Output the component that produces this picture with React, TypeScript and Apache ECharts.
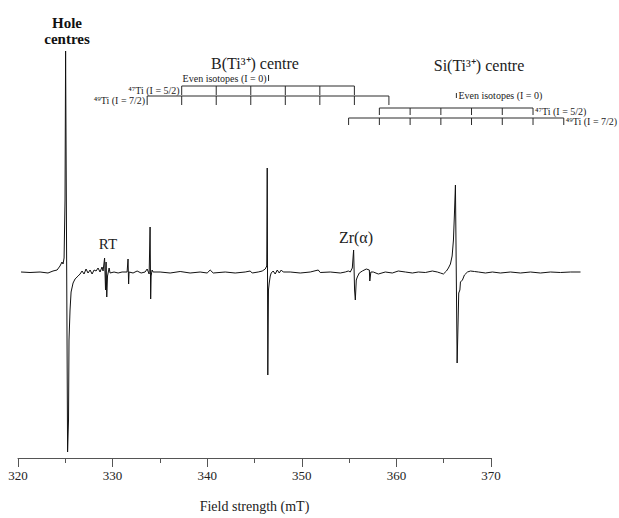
import React, { useEffect, useRef } from "react";
import * as echarts from "echarts";

// ---- Data (field strength in mT, signal in arbitrary units; 0 = baseline) ----
const fieldMT = [
  320.32, 321.27, 322.33, 323.17, 323.7, 324.13, 324.44, 324.65, 324.76, 324.87, 324.97, 325.03,
  325.24, 325.34, 325.39, 325.5, 325.61, 325.82, 326.03, 326.35, 326.56, 326.77, 326.98, 327.19,
  327.4, 327.62, 327.83, 328.04, 328.25, 328.46, 328.67, 328.88, 328.99, 329.15, 329.25, 329.31,
  329.38, 329.46, 329.63, 329.73, 330.15, 330.58, 331.0, 331.53, 331.63, 331.69, 331.74, 332.16,
  332.59, 333.01, 333.43, 333.65, 333.86, 333.96, 334.02, 334.07, 334.17, 334.28, 335.02, 336.08,
  337.14, 338.19, 339.25, 339.99, 340.31, 340.63, 341.9, 342.95, 344.01, 344.54, 344.75, 345.39,
  345.81, 346.13, 346.29, 346.34, 346.4, 346.47, 346.55, 346.66, 346.76, 346.97, 347.18, 347.4,
  347.61, 347.82, 348.03, 348.77, 349.83, 350.89, 351.73, 351.94, 353.0, 354.06, 354.59, 354.91,
  355.12, 355.33, 355.47, 355.57, 355.65, 355.75, 355.86, 356.07, 356.39, 356.81, 357.13, 357.18,
  357.29, 357.55, 358.08, 358.82, 359.56, 360.19, 360.94, 361.68, 362.31, 363.05, 363.79, 364.32,
  364.64, 364.96, 365.28, 365.49, 365.7, 365.88, 366.02, 366.12, 366.23, 366.41, 366.49, 366.58,
  366.7, 366.76, 366.97, 367.18, 367.5, 367.82, 368.24, 368.66, 369.4, 370.14, 370.98, 372.04,
  373.1, 374.16, 375.21, 376.27, 377.33, 378.39, 379.45,
];
const signal = [
  0, -0.5, 0, -1, 1, 2, 6, 10, 8, 14, 72, 221,
  -180, -148, -68, -38, -20, -11, -7, -4, -2, 1, -2, 3,
  -1, 2, -2, 2, 1, 4, 0, 5, 1, 14, -18, 10,
  -25, -4, 4, -1, 0, -1, 0, 0, 13, -12, 0, -1,
  1, -1, 0, 3, -2, 45, -27, -4, 2, 0, 0, -1,
  0.5, -1, 0, -1, 2, -1, 0, -1, 0, 1, -1, 0,
  1, 3, 6, 104, -103, -18, -11, -4, -1, 1, -2, 2,
  -1, 2, 0, 0, -1, 0, 2, -0.5, 0, -1, 0, 1,
  0, 4, 22, -18, -28, -8, -5, -1, 1, 3, 2, -9,
  0, 0, -2, 0, -1, 1, 0, -1, 0, -0.5, 1, 0,
  -1, -2, 1, 4, 8, 16, 32, 57, 87, -91, -58, -21,
  -18, -10, -8, -3, 0, 1, 0.5, 0, -1, 0, -1, 0,
  -1, 0, -1, 0, -0.5, 0, 0,
];

// Stick diagrams (line positions in mT)
const bEven = [346.48];
const b47Ti = [337.3, 340.95, 344.6, 348.25, 351.9, 355.55];
const b49Ti = [333.65, 337.3, 340.95, 344.6, 348.25, 351.9, 355.55, 359.2];
const siEven = [366.33];
const si47Ti = [358.19, 361.44, 364.69, 367.93, 371.18, 374.43];
const si49Ti = [354.94, 358.19, 361.44, 364.69, 367.93, 371.18, 374.43, 377.68];

const xTicks = [320, 330, 340, 350, 360, 370];
const plotFieldMax = 379.5; // spectrum trace runs past the labelled axis

const FONT = '"Liberation Serif", "Times New Roman", serif';

type Comb = { pos: number[]; top: number; bottom: number; label: string; side: "left" | "right" };
const combs: Comb[] = [
  { pos: bEven, top: 197, bottom: 191, label: "Even isotopes (I = 0)", side: "left" },
  { pos: b47Ti, top: 186, bottom: 177, label: "⁴⁷Ti (I = 5/2)", side: "left" },
  { pos: b49Ti, top: 176, bottom: 167, label: "⁴⁹Ti (I = 7/2)", side: "left" },
  { pos: siEven, top: 179, bottom: 174, label: "Even isotopes (I = 0)", side: "right" },
  { pos: si47Ti, top: 164, bottom: 157, label: "⁴⁷Ti (I = 5/2)", side: "right" },
  { pos: si49Ti, top: 154, bottom: 147, label: "⁴⁹Ti (I = 7/2)", side: "right" },
];

export default function App() {
  const ref = useRef<HTMLDivElement>(null);
  useEffect(() => {
    if (!ref.current) return;
    const chart = echarts.init(ref.current, null, { renderer: "svg" });
    const stroke = "#2a2a2a";
    const yMin = -186;
    const yMax = 232;
    chart.setOption({
      animation: false,
      backgroundColor: "#ffffff",
      grid: [
        { left: 18, right: 128, top: 40, bottom: 60 },
        { left: 18, right: 38, top: 40, bottom: 60 },
      ],
      xAxis: [
        {
          type: "value",
          gridIndex: 0,
          min: xTicks[0],
          max: xTicks[xTicks.length - 1],
          interval: 10,
          name: "Field strength (mT)",
          nameLocation: "middle",
          nameGap: 41,
          nameTextStyle: { fontFamily: FONT, fontSize: 14, color: "#222" },
          axisLine: { show: true, onZero: false, lineStyle: { color: "#555", width: 1 } },
          axisTick: { show: true, inside: false, length: 9, lineStyle: { color: "#555" } },
          minorTick: { show: true, splitNumber: 2, length: 5, lineStyle: { color: "#555" } },
          axisLabel: { fontFamily: FONT, fontSize: 13, color: "#222", margin: 11 },
          splitLine: { show: false },
          minorSplitLine: { show: false },
        },
        {
          type: "value",
          gridIndex: 1,
          min: xTicks[0],
          max: plotFieldMax,
          show: false,
          splitLine: { show: false },
        },
      ],
      yAxis: [
        { type: "value", gridIndex: 0, min: yMin, max: yMax, show: false, splitLine: { show: false } },
        { type: "value", gridIndex: 1, min: yMin, max: yMax, show: false, splitLine: { show: false } },
      ],
      series: [
        {
          type: "line",
          xAxisIndex: 1,
          yAxisIndex: 1,
          data: fieldMT.map((f, i) => [f, signal[i]]),
          showSymbol: false,
          symbol: "none",
          clip: false,
          lineStyle: { color: "#111", width: 1 },
        },
        {
          type: "custom",
          xAxisIndex: 1,
          yAxisIndex: 1,
          clip: false,
          data: combs.map((c, i) => [c.pos[0], c.top, i]),
          renderItem: (params: any, api: any) => {
            const c = combs[params.dataIndex];
            const xs = c.pos.map((p) => api.coord([p, c.top])[0]);
            const topY = api.coord([c.pos[0], c.top])[1];
            const botY = api.coord([c.pos[0], c.bottom])[1];
            const children: any[] = [];
            if (xs.length > 1) {
              children.push({
                type: "line",
                shape: { x1: xs[0], y1: topY, x2: xs[xs.length - 1], y2: topY },
                style: { stroke, lineWidth: 1 },
              });
            }
            xs.forEach((x) =>
              children.push({
                type: "line",
                shape: { x1: x, y1: topY, x2: x, y2: botY },
                style: { stroke, lineWidth: 1 },
              })
            );
            const lx = c.side === "left" ? xs[0] - 2 : xs[xs.length - 1] + 2;
            children.push({
              type: "text",
              x: lx,
              y: (topY + botY) / 2,
              style: {
                text: c.label,
                font: `10px ${FONT}`,
                fill: "#222",
                align: c.side === "left" ? "right" : "left",
                verticalAlign: "middle",
              },
            });
            return { type: "group", children };
          },
        },
      ],
      graphic: [
        {
          type: "text",
          x: 67,
          y: 31,
          style: {
            text: "Hole\ncentres",
            font: `bold 15px ${FONT}`,
            lineHeight: 16,
            fill: "#111",
            align: "center",
            verticalAlign: "middle",
          },
        },
        {
          type: "text",
          x: 255,
          y: 63,
          style: { text: "B(Ti³⁺) centre", font: `16px ${FONT}`, fill: "#222", align: "center", verticalAlign: "middle" },
        },
        {
          type: "text",
          x: 479,
          y: 65,
          style: { text: "Si(Ti³⁺) centre", font: `16px ${FONT}`, fill: "#222", align: "center", verticalAlign: "middle" },
        },
        {
          type: "text",
          x: 108,
          y: 244,
          style: { text: "RT", font: `15px ${FONT}`, fill: "#222", align: "center", verticalAlign: "middle" },
        },
        {
          type: "text",
          x: 356,
          y: 237,
          style: { text: "Zr(α)", font: `16px ${FONT}`, fill: "#222", align: "center", verticalAlign: "middle" },
        },
      ],
    });
    return () => chart.dispose();
  }, []);
  return (
    <div
      ref={ref}
      style={{ position: "fixed", left: 0, top: 0, width: 619, height: 518, background: "#fff" }}
    />
  );
}
